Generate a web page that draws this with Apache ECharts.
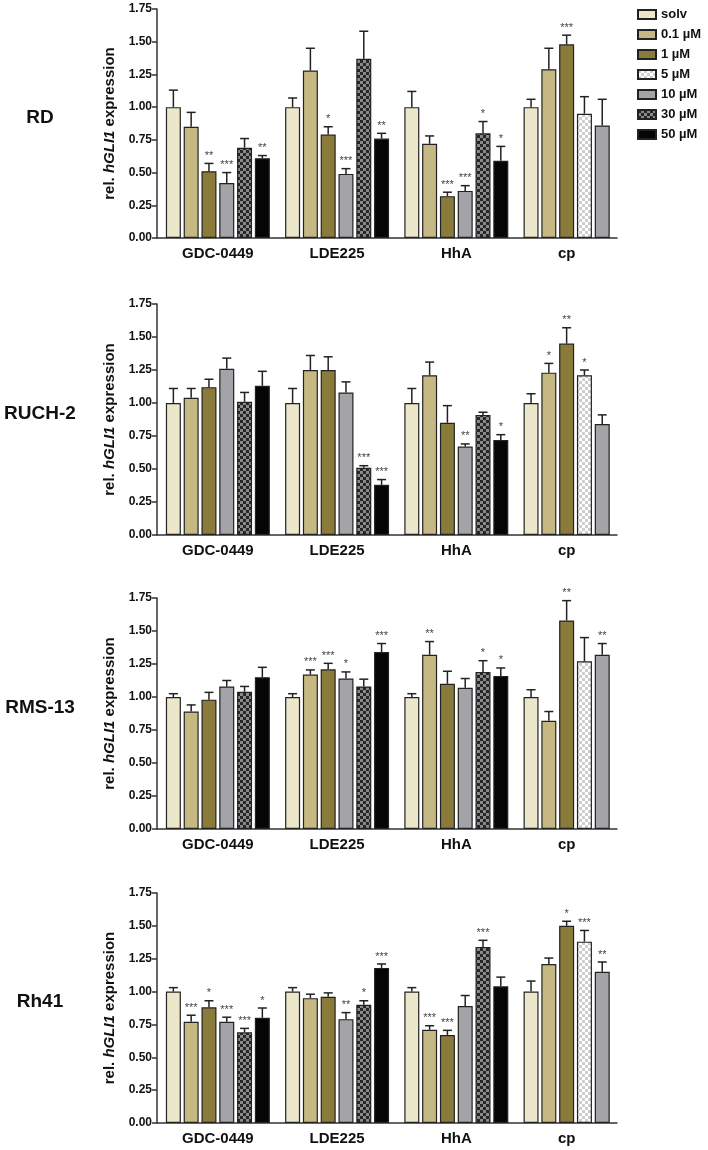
<!DOCTYPE html>
<html><head><meta charset="utf-8">
<script src="https://cdn.jsdelivr.net/npm/echarts@6/dist/echarts.min.js"></script>
<style>html,body{margin:0;padding:0;background:#fff}#c{width:708px;height:1150px}</style>
</head><body><div id="c"></div><script>
const panels = ['RD', 'RUCH-2', 'RMS-13', 'Rh41'];
const groups = ['GDC-0449', 'LDE225', 'HhA', 'cp'];
const treatments = ['solv', '0.1 µM', '1 µM', '5 µM', '10 µM', '30 µM', '50 µM'];
// treatments present in each drug group (indices into treatments)
const groupMembers = [[0, 1, 2, 4, 5, 6], [0, 1, 2, 4, 5, 6], [0, 1, 2, 4, 5, 6], [0, 1, 2, 3, 4]];

// RD
const rdMean = [[1.00, 0.85, 0.51, 0.42, 0.69, 0.61], [1.00, 1.28, 0.79, 0.49, 1.37, 0.76], [1.00, 0.72, 0.32, 0.36, 0.80, 0.59], [1.00, 1.29, 1.48, 0.95, 0.86]];
const rdErr = [[0.13, 0.11, 0.06, 0.08, 0.07, 0.02], [0.07, 0.17, 0.06, 0.04, 0.21, 0.04], [0.12, 0.06, 0.03, 0.04, 0.09, 0.11], [0.06, 0.16, 0.07, 0.13, 0.20]];
const rdSig = [['', '', '**', '***', '', '**'], ['', '', '*', '***', '', '**'], ['', '', '***', '***', '*', '*'], ['', '', '***', '', '']];
// RUCH-2
const ruchMean = [[1.00, 1.04, 1.12, 1.26, 1.01, 1.13], [1.00, 1.25, 1.25, 1.08, 0.51, 0.38], [1.00, 1.21, 0.85, 0.67, 0.91, 0.72], [1.00, 1.23, 1.45, 1.21, 0.84]];
const ruchErr = [[0.11, 0.07, 0.06, 0.08, 0.07, 0.11], [0.11, 0.11, 0.10, 0.08, 0.015, 0.04], [0.11, 0.10, 0.13, 0.02, 0.02, 0.04], [0.07, 0.07, 0.12, 0.04, 0.07]];
const ruchSig = [['', '', '', '', '', ''], ['', '', '', '', '***', '***'], ['', '', '', '**', '', '*'], ['', '*', '**', '*', '']];
// RMS-13
const rmsMean = [[1.00, 0.89, 0.98, 1.08, 1.04, 1.15], [1.00, 1.17, 1.21, 1.14, 1.08, 1.34], [1.00, 1.32, 1.10, 1.07, 1.19, 1.16], [1.00, 0.82, 1.58, 1.27, 1.32]];
const rmsErr = [[0.025, 0.05, 0.055, 0.045, 0.04, 0.075], [0.025, 0.035, 0.045, 0.05, 0.055, 0.065], [0.025, 0.10, 0.095, 0.07, 0.085, 0.06], [0.055, 0.07, 0.15, 0.18, 0.085]];
const rmsSig = [['', '', '', '', '', ''], ['', '***', '***', '*', '', '***'], ['', '**', '', '', '*', '*'], ['', '', '**', '', '**']];
// Rh41
const rh41Mean = [[1.00, 0.77, 0.88, 0.77, 0.69, 0.80], [1.00, 0.95, 0.96, 0.79, 0.90, 1.18], [1.00, 0.71, 0.67, 0.89, 1.34, 1.04], [1.00, 1.21, 1.50, 1.38, 1.15]];
const rh41Err = [[0.03, 0.05, 0.05, 0.035, 0.03, 0.075], [0.03, 0.03, 0.03, 0.05, 0.03, 0.03], [0.03, 0.03, 0.035, 0.08, 0.05, 0.07], [0.08, 0.045, 0.035, 0.085, 0.075]];
const rh41Sig = [['', '***', '*', '***', '***', '*'], ['', '', '', '**', '*', '***'], ['', '***', '***', '', '***', ''], ['', '', '*', '***', '**']];

const panelMeans = [rdMean, ruchMean, rmsMean, rh41Mean];
const panelErrs = [rdErr, ruchErr, rmsErr, rh41Err];
const panelSigs = [rdSig, ruchSig, rmsSig, rh41Sig];

// ---- layout / style ----
const FONT = "'Liberation Sans', Arial, sans-serif";
const gridTops = [9, 304, 598, 893];
const gridHeights = [229, 231, 231, 230];
const GRID_LEFT = 157, GRID_WIDTH = 460;
const X_MAX = 25.85, START = 0.92, GROUP_STEP = 6.7;
const barX = (g, i) => START + GROUP_STEP * g + i;
const groupCenter = g => START + GROUP_STEP * g + (groupMembers[g].length - 1) / 2;

function checker(c1, c2, s) {
  const cv = document.createElement('canvas');
  cv.width = cv.height = 2 * s;
  const ctx = cv.getContext('2d');
  ctx.fillStyle = c1; ctx.fillRect(0, 0, 2 * s, 2 * s);
  ctx.fillStyle = c2; ctx.fillRect(0, 0, s, s); ctx.fillRect(s, s, s, s);
  return { image: cv, repeat: 'repeat' };
}
const fills = ['#ECE6CB', '#C6B883', '#8B7B3A', checker('#ffffff', '#cfcfcf', 3), '#A3A3A8', checker('#8a8a8a', '#262626', 3), '#050505'];

const grids = [], xAxes = [], yAxes = [], series = [], graphics = [];
panels.forEach((pName, p) => {
  grids.push({ left: GRID_LEFT, top: gridTops[p], width: GRID_WIDTH, height: gridHeights[p], containLabel: false, outerBoundsMode: 'none' });
  xAxes.push({
    type: 'value', gridIndex: p, min: 0, max: X_MAX, splitLine: { show: false },
    axisLine: { show: true, onZero: false, lineStyle: { color: '#333', width: 1.5 } },
    axisTick: { show: false },
    axisLabel: {
      customValues: groups.map((_, g) => groupCenter(g)),
      formatter: v => { let best = 0; groups.forEach((_, g) => { if (Math.abs(groupCenter(g) - v) < Math.abs(groupCenter(best) - v)) best = g; }); return groups[best]; },
      fontFamily: FONT, fontSize: 15, fontWeight: 'bold', color: '#111', margin: 8
    }
  });
  yAxes.push({
    type: 'value', gridIndex: p, min: 0, max: 1.75, interval: 0.25,
    splitLine: { show: false },
    axisLine: { show: true, lineStyle: { color: '#333', width: 1.5 } },
    axisTick: { show: true, length: 5, lineStyle: { color: '#333', width: 1.5 } },
    axisLabel: { formatter: v => v.toFixed(2), fontFamily: FONT, fontSize: 12, fontWeight: 'bold', color: '#111', margin: 5 },
    name: '{n|rel. }{i|hGLI1}{n| expression}',
    nameLocation: 'middle', nameGap: 40, nameMoveOverlap: false,
    nameTextStyle: {
      rich: {
        n: { fontFamily: FONT, fontSize: 15, fontWeight: 'bold', color: '#111' },
        i: { fontFamily: FONT, fontSize: 15, fontWeight: 'bold', fontStyle: 'italic', color: '#111' }
      }
    }
  });
  // bars: one series per treatment
  treatments.forEach((tName, t) => {
    const data = [];
    groupMembers.forEach((mem, g) => {
      const i = mem.indexOf(t);
      if (i >= 0) data.push([barX(g, i), panelMeans[p][g][i]]);
    });
    series.push({
      type: 'bar', name: tName, xAxisIndex: p, yAxisIndex: p, data,
      barWidth: 15, barGap: '-100%', z: 2,
      itemStyle: { color: fills[t], borderColor: '#222', borderWidth: 1.2 }
    });
  });
  // error bars and significance stars
  const errData = [], sigList = [];
  groupMembers.forEach((mem, g) => {
    mem.forEach((t, i) => {
      errData.push([barX(g, i), panelMeans[p][g][i], panelErrs[p][g][i]]);
      sigList.push(panelSigs[p][g][i]);
    });
  });
  series.push({
    type: 'custom', name: 'err' + p, xAxisIndex: p, yAxisIndex: p, data: errData, z: 5, clip: false,
    encode: { x: 0, y: 1 },
    renderItem: function (params, api) {
      const x = api.value(0), m = api.value(1), e = api.value(2);
      const p0 = api.coord([x, m]), p1 = api.coord([x, m + e]);
      const children = [
        { type: 'line', shape: { x1: p0[0], y1: p0[1], x2: p1[0], y2: p1[1] }, style: { stroke: '#222', lineWidth: 1.5 } },
        { type: 'line', shape: { x1: p1[0] - 4.5, y1: p1[1], x2: p1[0] + 4.5, y2: p1[1] }, style: { stroke: '#222', lineWidth: 1.5 } }
      ];
      const s = sigList[params.dataIndex];
      if (s) children.push({ type: 'text', x: p1[0], y: p1[1] - 2, style: { text: s, fill: '#444', font: '11px ' + FONT, textAlign: 'center', textVerticalAlign: 'bottom' } });
      return { type: 'group', children };
    }
  });
  graphics.push({
    type: 'text', x: 40, y: gridTops[p] + gridHeights[p] / 2 - 6,
    style: { text: pName, font: 'bold 19px ' + FONT, fill: '#111', textAlign: 'center', textVerticalAlign: 'middle' }
  });
});

const chart = echarts.init(document.getElementById('c'), null, { renderer: 'canvas' });
chart.setOption({
  animation: false,
  backgroundColor: '#fff',
  grid: grids, xAxis: xAxes, yAxis: yAxes, series,
  graphic: graphics,
  legend: {
    data: treatments, orient: 'vertical', left: 637, top: 8, padding: 0,
    itemWidth: 18, itemHeight: 9, itemGap: 7, itemTextGap: 7, icon: 'rect', selectedMode: false,
    textStyle: { fontFamily: FONT, fontSize: 13, fontWeight: 'bold', color: '#111' }
  }
});
</script></body></html>
